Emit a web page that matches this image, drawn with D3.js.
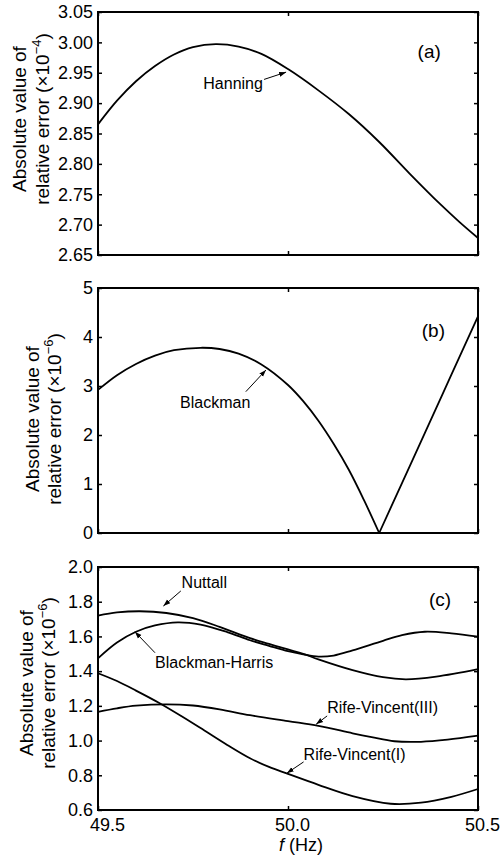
<!DOCTYPE html>
<html><head><meta charset="utf-8">
<script src="https://cdn.jsdelivr.net/npm/d3@7"></script>
<style>
body{margin:0;background:#fff}
svg{display:block}
text{font-family:"Liberation Sans",Arial,Helvetica,sans-serif;fill:#000}
</style>
</head><body>
<svg id="chart" width="502" height="858"></svg>
<script>
// ---------- data ----------
const xTicks = [49.5, 50.0, 50.5];
const xTickLabels = ["49.5", "50.0", "50.5"];

const yTicksA = [2.65, 2.70, 2.75, 2.80, 2.85, 2.90, 2.95, 3.00, 3.05];
const yTicksB = [0, 1, 2, 3, 4, 5];
const yTicksC = [0.6, 0.8, 1.0, 1.2, 1.4, 1.6, 1.8, 2.0];

const hanningF = [49.50, 49.55, 49.60, 49.65, 49.70, 49.75, 49.81, 49.87, 49.93, 50.00, 50.08, 50.16, 50.24, 50.32, 50.40, 50.45, 50.50];
const hanningV = [2.865, 2.904, 2.936, 2.961, 2.980, 2.992, 2.997, 2.993, 2.981, 2.956, 2.921, 2.882, 2.836, 2.784, 2.734, 2.705, 2.678];

const blackmanF = [49.50, 49.55, 49.60, 49.65, 49.70, 49.77, 49.82, 49.87, 49.93, 50.00, 50.04, 50.08, 50.12, 50.16, 50.20, 50.24, 50.30, 50.36, 50.43, 50.50];
const blackmanV = [2.92, 3.22, 3.45, 3.62, 3.73, 3.78, 3.755, 3.66, 3.44, 3.02, 2.69, 2.29, 1.82, 1.29, 0.67, 0.00, 1.02, 2.04, 3.23, 4.42];

const nuttallF = [49.50, 49.55, 49.61, 49.68, 49.75, 49.82, 49.90, 49.95, 50.00, 50.04, 50.08, 50.17, 50.25, 50.31, 50.39, 50.50];
const nuttallV = [1.720, 1.738, 1.745, 1.735, 1.705, 1.655, 1.590, 1.557, 1.525, 1.500, 1.468, 1.406, 1.365, 1.353, 1.368, 1.411];

const bhF = [49.50, 49.55, 49.60, 49.65, 49.71, 49.77, 49.84, 49.90, 49.95, 50.00, 50.04, 50.08, 50.12, 50.17, 50.25, 50.30, 50.36, 50.43, 50.50];
const bhV = [1.474, 1.565, 1.627, 1.663, 1.681, 1.668, 1.625, 1.578, 1.546, 1.515, 1.497, 1.484, 1.490, 1.520, 1.575, 1.607, 1.627, 1.618, 1.599];

const rv3F = [49.50, 49.55, 49.60, 49.68, 49.75, 49.82, 49.90, 50.00, 50.08, 50.17, 50.22, 50.28, 50.35, 50.42, 50.50];
const rv3V = [1.166, 1.186, 1.201, 1.209, 1.202, 1.180, 1.146, 1.112, 1.085, 1.042, 1.020, 0.996, 0.993, 1.005, 1.028];

const rv1F = [49.50, 49.55, 49.60, 49.66, 49.72, 49.78, 49.84, 49.90, 49.95, 50.00, 50.08, 50.17, 50.27, 50.35, 50.43, 50.50];
const rv1V = [1.388, 1.343, 1.288, 1.218, 1.140, 1.058, 0.975, 0.898, 0.848, 0.808, 0.745, 0.680, 0.636, 0.642, 0.676, 0.721];

// ---------- layout ----------
const X0 = 98, X1 = 478;
const x = d3.scaleLinear().domain([49.5, 50.5]).range([X0, X1]);
const svg = d3.select("#chart");

svg.append("defs").append("marker")
  .attr("id", "ah").attr("viewBox", "0 0 10 10").attr("refX", 10).attr("refY", 5)
  .attr("markerWidth", 7).attr("markerHeight", 7).attr("markerUnits", "userSpaceOnUse")
  .attr("orient", "auto")
  .append("path").attr("d", "M0,1.5L10,5L0,8.5Z").attr("fill", "#000");

const line = y => d3.line().x(d => x(d[0])).y(d => y(d[1])).curve(d3.curveCatmullRom.alpha(0.5));
const zip = (a, b) => a.map((v, i) => [v, b[i]]);

function panel(cfg) {
  const y = d3.scaleLinear().domain(cfg.domain).range([cfg.bottom, cfg.top]);
  const g = svg.append("g");

  // curves
  cfg.series.forEach(s => {
    const pts = zip(s.f, s.v);
    const parts = [];
    if (s.split) {
      const iMin = d3.minIndex(s.v);
      parts.push(pts.slice(0, iMin + 1), pts.slice(iMin));
    } else parts.push(pts);
    parts.forEach(p => g.append("path").attr("d", line(y)(p))
      .attr("fill", "none").attr("stroke", "#000").attr("stroke-width", 1.8));
  });

  // axes
  const tickStyle = sel => { sel.select(".domain").remove();
    sel.selectAll(".tick line").attr("stroke", "#000").attr("stroke-width", 1.5); };

  g.append("g").attr("transform", `translate(${X0},0)`)
    .call(d3.axisLeft(y).tickValues(cfg.ticks).tickFormat(cfg.fmt).tickSize(-4).tickPadding(5))
    .call(tickStyle)
    .selectAll("text").attr("font-size", 18).attr("font-family", '"Liberation Sans",Arial,sans-serif');
  g.append("g").attr("transform", `translate(${X1},0)`)
    .call(d3.axisRight(y).tickValues(cfg.ticks).tickFormat("").tickSize(-4))
    .call(tickStyle);
  g.append("g").attr("transform", `translate(0,${cfg.top})`)
    .call(d3.axisTop(x).tickValues(xTicks).tickFormat("").tickSize(-4))
    .call(tickStyle);
  const bx = g.append("g").attr("transform", `translate(0,${cfg.bottom})`)
    .call(d3.axisBottom(x).tickValues(xTicks)
      .tickFormat(cfg.showX ? (d, i) => xTickLabels[i] : "").tickSize(-4).tickPadding(8))
    .call(tickStyle);
  if (cfg.showX) {
    bx.selectAll("text").attr("font-size", 18).attr("font-family", '"Liberation Sans",Arial,sans-serif')
      .attr("dx", (d, i) => i === 0 ? 9 : 4);
  }

  // frame
  g.append("rect").attr("x", X0).attr("y", cfg.top).attr("width", X1 - X0).attr("height", cfg.bottom - cfg.top)
    .attr("fill", "none").attr("stroke", "#000").attr("stroke-width", 2);

  // y title (two lines)
  g.append("text").attr("transform", `translate(${cfg.tx1},${cfg.ty}) rotate(-90)`)
    .attr("text-anchor", "middle").attr("font-size", 19).text("Absolute value of");
  const t2 = g.append("text").attr("transform", `translate(${cfg.tx2},${cfg.ty}) rotate(-90)`)
    .attr("text-anchor", "middle").attr("font-size", 19);
  t2.append("tspan").text("relative error (\u00d710");
  t2.append("tspan").attr("font-size", 13).attr("dy", -8).text("\u2212" + cfg.exp);
  t2.append("tspan").attr("dy", 8).text(")");

  // panel tag
  g.append("text").attr("x", x(cfg.tag[0])).attr("y", y(cfg.tag[1]))
    .attr("font-size", 19).text(cfg.tag[2]);

  // annotations
  cfg.notes.forEach(n => {
    g.append("text").attr("x", x(n.tf)).attr("y", y(n.tv)).attr("font-size", 16)
      .attr("text-anchor", n.anchor || "start").text(n.text);
    g.append("line").attr("x1", x(n.af0)).attr("y1", y(n.av0)).attr("x2", x(n.af1)).attr("y2", y(n.av1))
      .attr("stroke", "#000").attr("stroke-width", 1).attr("marker-end", "url(#ah)");
  });
}

panel({
  top: 12, bottom: 255, domain: [2.65, 3.05], ticks: yTicksA, fmt: d3.format(".2f"),
  series: [{ f: hanningF, v: hanningV }],
  tx1: 26, tx2: 49, ty: 119, exp: "4",
  tag: [50.341, 2.974, "(a)"],
  notes: [{ text: "Hanning", anchor: "end", tf: 49.934, tv: 2.923, af0: 49.937, av0: 2.939, af1: 49.995, av1: 2.951 }]
});

panel({
  top: 288, bottom: 533, domain: [0, 5], ticks: yTicksB, fmt: d3.format("d"),
  series: [{ f: blackmanF, v: blackmanV, split: true }],
  tx1: 39, tx2: 60.5, ty: 419, exp: "6",
  tag: [50.352, 4.0, "(b)"],
  notes: [{ text: "Blackman", tf: 49.716, tv: 2.551, af0: 49.889, av0: 2.884, af1: 49.942, av1: 3.327 }]
});

panel({
  top: 567, bottom: 810, domain: [0.6, 2.0], ticks: yTicksC, fmt: d3.format(".1f"), showX: true,
  series: [{ f: nuttallF, v: nuttallV }, { f: bhF, v: bhV }, { f: rv3F, v: rv3V }, { f: rv1F, v: rv1V }],
  tx1: 32.7, tx2: 55, ty: 683, exp: "6",
  tag: [50.371, 1.775, "(c)"],
  notes: [
    { text: "Nuttall", tf: 49.72, tv: 1.879, af0: 49.718, av0: 1.862, af1: 49.672, av1: 1.775 },
    { text: "Blackman-Harris", tf: 49.65, tv: 1.418, af0: 49.65, av0: 1.506, af1: 49.597, av1: 1.627 },
    { text: "Rife-Vincent(III)", tf: 50.103, tv: 1.159, af0: 50.103, av0: 1.142, af1: 50.074, av1: 1.094 },
    { text: "Rife-Vincent(I)", tf: 50.041, tv: 0.888, af0: 50.041, av0: 0.877, af1: 49.997, av1: 0.812 }
  ]
});

// x-axis title
const xt = svg.append("text").attr("x", 301).attr("y", 851).attr("text-anchor", "middle").attr("font-size", 18);
xt.append("tspan").attr("font-style", "italic").text("f");
xt.append("tspan").text(" (Hz)");
</script>
</body></html>
